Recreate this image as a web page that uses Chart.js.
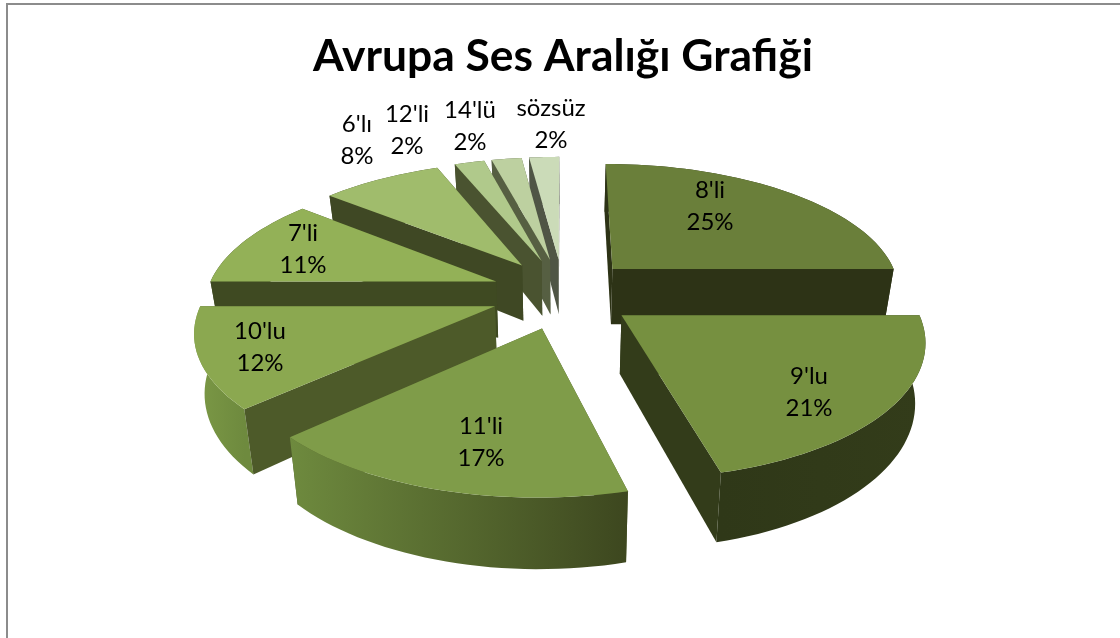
<!DOCTYPE html>
<html><head><meta charset="utf-8">
<style>html,body{margin:0;padding:0;background:#fff}canvas{display:block}</style>
<script src="https://cdn.jsdelivr.net/npm/chart.js@4"></script>
</head><body><canvas id="c" width="1120" height="638"></canvas>
<script>
const titleText = "Avrupa Ses Aralığı Grafiği";
const categories = ["8'li","9'lu","11'li","10'lu","7'li","6'lı","12'li","14'lü","sözsüz"];
const percents = [25,21,17,12,11,8,2,2,2];

const topColors = ["#6A7F3A","#769040","#7F9C49","#8BA850","#93B157","#A0BC6C","#B0C98B","#BDD0A0","#CBDBB8"];
const cutColors = ["#2D3316","#333C1A","#4D5A29","#4D5A29","#3F4A22","#3F4824","#4A5330","#565F42","#4F5545"];
const rimStart  = ["#2D3316","#333C1A","#3D471F","#6E8A3E","#3F4A22","#3F4824","#4A5330","#565F42","#4F5545"];
const rimEnd    = ["#2D3316","#2F3818","#6E8A3E","#7A9745","#3F4A22","#3F4824","#4A5330","#565F42","#4F5545"];
const labelCenters = [[710,206],[809,392],[481,442],[260,347],[303,249],[357,140],[407,130],[470,126],[551,124]];

const view = {k:0.445, depth:1800, height:57, lean:0.0005, segments:48, explodeY:1.1};
const explode = 72, pieRadius = 290;

const pie3d = {
  id:'pie3d',
  beforeDraw(chart){
    const {ctx,width,height}=chart;
    ctx.save();ctx.fillStyle='#fff';ctx.fillRect(0,0,width,height);
    ctx.strokeStyle='#8c8c8c';ctx.lineWidth=2;
    ctx.beginPath();ctx.moveTo(7,height);ctx.lineTo(7,4);ctx.lineTo(width,4);ctx.stroke();
    ctx.restore();
  },
  beforeDatasetDraw(chart,args){
    const ctx=chart.ctx, arcs=args.meta.data;
    const proj=(el,X,Y,h)=>{
      const p=view.depth/(view.depth-Y);
      return [el.x+X*p*(1-view.lean*h), el.y+(view.k*Y+h)*p];
    };
    const order=arcs.map((el,i)=>({el,i,sortY:Math.sin((el.startAngle+el.endAngle)/2)}))
      .sort((a,b)=>a.sortY-b.sortY);
    const poly=(pts,fill)=>{
      ctx.beginPath();pts.forEach((q,j)=>j?ctx.lineTo(q[0],q[1]):ctx.moveTo(q[0],q[1]));ctx.closePath();
      ctx.fillStyle=fill;ctx.fill();
    };
    for(const {el,i} of order){
      const a0=el.startAngle,a1=el.endAngle,m=(a0+a1)/2,R=el.outerRadius,off=el.options.offset;
      const ax=Math.cos(m)*off, ay=Math.sin(m)*off*view.explodeY;
      const pt=a=>[ax+Math.cos(a)*R, ay+Math.sin(a)*R];
      const H=view.height, A=[ax,ay], S=pt(a0), E=pt(a1);
      const quad=(P,Q)=>[proj(el,P[0],P[1],0),proj(el,Q[0],Q[1],0),proj(el,Q[0],Q[1],H),proj(el,P[0],P[1],H)];
      const cuts=[
        {pts:quad(A,S),back:Math.sin(a0-Math.PI/2)<0},
        {pts:quad(A,E),back:Math.sin(a1+Math.PI/2)<0}
      ];
      const n=Math.max(6,Math.round(view.segments*(a1-a0)/(Math.PI/2)));
      const upper=[],lower=[];
      for(let s=0;s<=n;s++){
        const P=pt(a0+(a1-a0)*s/n);
        upper.push(proj(el,P[0],P[1],0));
        lower.unshift(proj(el,P[0],P[1],H));
      }
      cuts.filter(c=>c.back).forEach(c=>poly(c.pts,cutColors[i]));
      const g=ctx.createLinearGradient(upper[0][0],0,upper[n][0],0);
      g.addColorStop(0,rimStart[i]);g.addColorStop(1,rimEnd[i]);
      poly(upper.concat(lower),g);
      cuts.filter(c=>!c.back).forEach(c=>poly(c.pts,cutColors[i]));
      poly([proj(el,A[0],A[1],0)].concat(upper),topColors[i]);
    }
    return false;
  },
  afterDatasetsDraw(chart){
    const ctx=chart.ctx;
    ctx.save();ctx.fillStyle='#000';ctx.font='24px Lato';ctx.textAlign='center';ctx.textBaseline='middle';
    categories.forEach((c,i)=>{
      const [x,y]=labelCenters[i];
      ctx.fillText(c,x,y-16);
      ctx.fillText(percents[i]+'%',x,y+16);
    });
    ctx.restore();
  }
};

new Chart(document.getElementById('c'),{
  type:'pie',
  data:{labels:categories,datasets:[{data:percents,backgroundColor:topColors,offset:explode,radius:pieRadius,borderWidth:0}]},
  plugins:[pie3d],
  options:{
    responsive:false,animation:false,
    layout:{padding:{left:6,right:0,top:0,bottom:138}},
    plugins:{
      legend:{display:false},tooltip:{enabled:false},
      title:{display:true,text:titleText,color:'#000',font:{family:'Lato',size:44.4,weight:'bold'},padding:{top:30,bottom:3}}
    }
  }
});
</script></body></html>
